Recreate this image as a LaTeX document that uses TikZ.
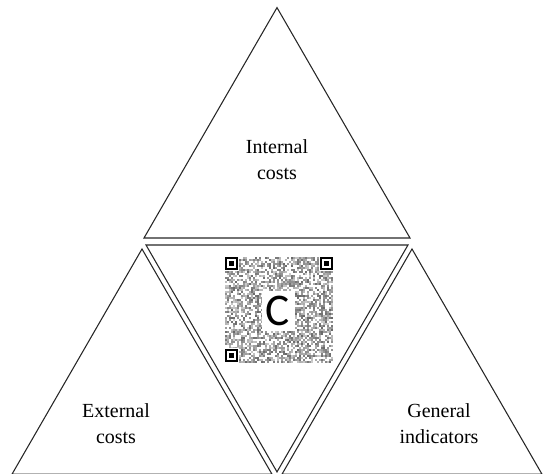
\documentclass[tikz,border=0pt]{standalone}
\usepackage{fontspec}
\setmainfont{Liberation Serif}
\newfontfamily\qrfont{Carlito}
\begin{document}
\begin{tikzpicture}[x=0.75pt,y=-0.75pt,
  tri/.style={draw=black!85,line width=0.8pt,line join=miter},
  lbl/.style={font=\fontsize{15}{19.5}\selectfont,align=center,text=black},
  qrcell/.style={fill=black!#1},
  finder/.style={fill=black}]
\useasboundingbox (0,0) rectangle (544,474);
\clip (0,0) rectangle (544,474);
% triangles
\draw[tri] (277,7.6) -- (410,238) -- (144,238) -- cycle;
\draw[tri] (146,245) -- (408,245) -- (277,471.9) -- cycle;
\draw[tri] (142,249) -- (272,474.2) -- (12,474.2) -- cycle;
\draw[tri] (412,249) -- (542,474.2) -- (282,474.2) -- cycle;
% labels
\node[lbl] (internal) at (277,160) {Internal\\costs};
\node[lbl] (external) at (116,424) {External\\costs};
\node[lbl] (general) at (439,424) {General\\indicators};
% QR-like pattern
\pgfmathsetseed{11}
\foreach \i in {0,...,53}{
  \foreach \j in {0,...,52}{
    \pgfmathsetmacro\r{rnd}
    \pgfmathtruncatemacro\g{20+40*rnd}
    \ifdim\r pt<0.6pt
      \fill[qrcell=\g] (225+\i*2,257+\j*2) rectangle ++(2,2);
    \fi
  }
}
\foreach \fx/\fy in {225/257,320/257,225/349}{
  \fill[white] (\fx-1,\fy-1) rectangle ++(15,15);
  \fill[finder] (\fx,\fy) rectangle ++(13,13);
  \fill[white] (\fx+2,\fy+2) rectangle ++(9,9);
  \fill[finder] (\fx+4,\fy+4) rectangle ++(5,5);
}
\fill[white] (262,291) rectangle (295,331);
\node[font=\qrfont\fontsize{34}{34}\selectfont,inner sep=0pt] (c) at (278,311) {C};
\end{tikzpicture}
\end{document}
